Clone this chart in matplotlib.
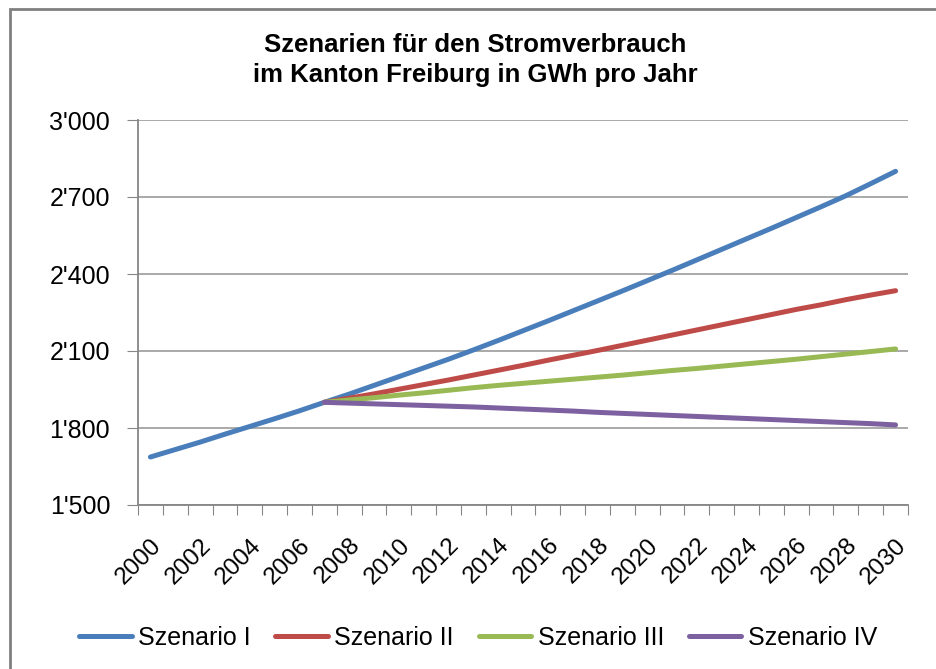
import matplotlib.pyplot as plt
from matplotlib.patches import Rectangle
from matplotlib.ticker import FuncFormatter

plt.rcParams['font.family'] = ['Liberation Sans', 'DejaVu Sans']

# Jahre und Szenarien (GWh pro Jahr)
jahre = list(range(2000, 2031))
szenario_1 = [1687, 1716, 1745, 1776, 1806, 1836, 1867, 1900, 1932, 1966, 2000,
              2034, 2068, 2104, 2141, 2179, 2217, 2256, 2295, 2334, 2374, 2414,
              2455, 2496, 2537, 2578, 2620, 2662, 2705, 2752, 2800]
szenario_2 = [None] * 7 + [1900, 1916, 1933, 1951, 1969, 1987, 2006, 2025, 2044,
                           2064, 2083, 2102, 2122, 2142, 2162, 2182, 2202, 2222,
                           2242, 2262, 2280, 2300, 2318, 2335]
szenario_3 = [None] * 7 + [1900, 1909, 1918, 1928, 1937, 1947, 1957, 1966, 1974,
                           1982, 1990, 1998, 2006, 2015, 2024, 2032, 2041, 2050,
                           2059, 2068, 2078, 2088, 2098, 2108]
szenario_4 = [None] * 7 + [1900, 1897, 1894, 1891, 1888, 1885, 1882, 1878, 1874,
                           1870, 1866, 1861, 1857, 1853, 1849, 1845, 1841, 1837,
                           1833, 1829, 1825, 1821, 1817, 1812]
namen = ['Szenario I', 'Szenario II', 'Szenario III', 'Szenario IV']
farben = ['#4A7EBB', '#BE4B48', '#98B954', '#7D60A0']

fig = plt.figure(figsize=(9.36, 6.69), dpi=100)
ax = fig.add_axes([138 / 936, 1 - 505 / 669, (908 - 138) / 936, (505 - 120) / 669])

idx = list(range(len(jahre)))
for werte, name, farbe in zip([szenario_1, szenario_2, szenario_3, szenario_4], namen, farben):
    xs = [i for i, v in zip(idx, werte) if v is not None]
    ys = [v for v in werte if v is not None]
    ax.plot(xs, ys, color=farbe, lw=3.6, label=name, solid_capstyle='round', zorder=3)

ax.set_ylim(1500, 3000)
ax.set_yticks(range(1500, 3001, 300))
ax.yaxis.set_major_formatter(FuncFormatter(lambda v, p: f"{int(v):,}".replace(',', "'")))
ax.grid(axis='y', color='#A3A3A3', lw=1.3)
ax.set_axisbelow(True)

# Kategorienachse: Striche zwischen den Jahren, Beschriftung jedes zweite Jahr
ax.set_xlim(-0.5, len(jahre) - 0.5)
ax.set_xticks([i - 0.5 for i in range(len(jahre) + 1)])
ax.set_xticklabels([])
ax.set_xticks(idx[::2], minor=True)
ax.set_xticklabels([str(j) for j in jahre[::2]], minor=True, rotation=45,
                   ha='right', va='top', rotation_mode='anchor', fontsize=17.5)
ax.tick_params(axis='x', which='minor', length=0, pad=21)
ax.tick_params(axis='x', which='major', direction='out', length=7, color='#868686')
ax.tick_params(axis='y', direction='out', length=8, color='#868686', labelsize=18, pad=12)

for s in ['top', 'right']:
    ax.spines[s].set_visible(False)
for s in ['left', 'bottom']:
    ax.spines[s].set_color('#868686')
    ax.spines[s].set_linewidth(1.3)

fig.text(475 / 936, 1 - 60 / 669,
         'Szenarien für den Stromverbrauch\nim Kanton Freiburg in GWh pro Jahr',
         ha='center', va='center', fontsize=18.5, fontweight='bold', linespacing=1.28)

fig.legend(loc='center', bbox_to_anchor=(478 / 936, 1 - 638 / 669), ncol=4,
           frameon=False, fontsize=18, handlelength=2.1, handletextpad=0.25,
           columnspacing=1.0)

# Rahmen um das Diagramm
fig.patches.append(Rectangle((10 / 936, -0.05), 1.1, 1 - 9 / 669 + 0.05,
                             transform=fig.transFigure, fill=False,
                             edgecolor='#808080', lw=2))

fig.savefig('out.png', dpi=100)
